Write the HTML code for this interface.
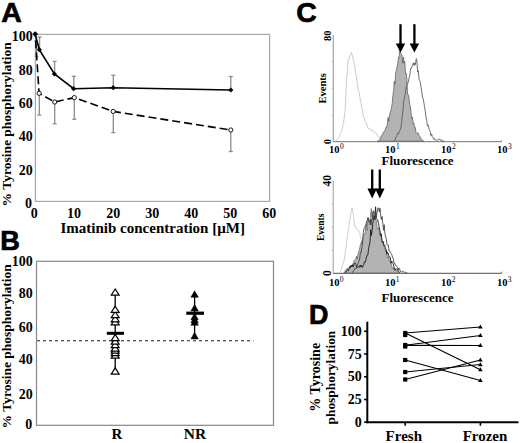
<!DOCTYPE html>
<html><head><meta charset="utf-8"><style>
html,body{margin:0;padding:0;background:#fff;width:520px;height:443px;overflow:hidden}
svg{display:block}
</style></head><body>
<svg width="520" height="443" viewBox="0 0 520 443">
<rect width="520" height="443" fill="#fff"/>
<text x="1.3" y="21.5" font-family="Liberation Sans, sans-serif" font-weight="bold" font-size="28.4" stroke="#000" stroke-width="0.7">A</text>
<rect x="35.4" y="34.4" width="234.20000000000002" height="167.0" fill="none" stroke="#a8a8a8" stroke-width="1.2"/>
<text x="32.8" y="41.0" font-family="Liberation Serif, serif" font-weight="bold" font-size="14" text-anchor="end">100</text>
<text x="32.8" y="74.5" font-family="Liberation Serif, serif" font-weight="bold" font-size="14" text-anchor="end">80</text>
<text x="32.8" y="108.0" font-family="Liberation Serif, serif" font-weight="bold" font-size="14" text-anchor="end">60</text>
<text x="32.8" y="141.4" font-family="Liberation Serif, serif" font-weight="bold" font-size="14" text-anchor="end">40</text>
<text x="32.8" y="174.9" font-family="Liberation Serif, serif" font-weight="bold" font-size="14" text-anchor="end">20</text>
<text x="32.1" y="208.4" font-family="Liberation Serif, serif" font-weight="bold" font-size="14" text-anchor="end">0</text>
<text x="34.3" y="217.5" font-family="Liberation Serif, serif" font-weight="bold" font-size="14" text-anchor="middle">0</text>
<text x="74.1" y="217.5" font-family="Liberation Serif, serif" font-weight="bold" font-size="14" text-anchor="middle">10</text>
<text x="113.2" y="217.5" font-family="Liberation Serif, serif" font-weight="bold" font-size="14" text-anchor="middle">20</text>
<text x="152.2" y="217.5" font-family="Liberation Serif, serif" font-weight="bold" font-size="14" text-anchor="middle">30</text>
<text x="191.2" y="217.5" font-family="Liberation Serif, serif" font-weight="bold" font-size="14" text-anchor="middle">40</text>
<text x="230.3" y="217.5" font-family="Liberation Serif, serif" font-weight="bold" font-size="14" text-anchor="middle">50</text>
<text x="269.3" y="217.5" font-family="Liberation Serif, serif" font-weight="bold" font-size="14" text-anchor="middle">60</text>
<text x="60.5" y="232.7" font-family="Liberation Serif, serif" font-weight="bold" font-size="15">Imatinib concentration [µM]</text>
<text transform="translate(10.8,206.5) rotate(-90)" font-family="Liberation Serif, serif" font-weight="bold" font-size="13.5">% Tyrosine phosphorylation</text>
<line x1="36.5" y1="40" x2="36.5" y2="56.4" stroke="#8c8c8c" stroke-width="1.3"/>
<line x1="34.75" y1="56.4" x2="38.25" y2="56.4" stroke="#8c8c8c" stroke-width="1.3"/>
<line x1="39.6" y1="49.7" x2="39.6" y2="37" stroke="#8c8c8c" stroke-width="1.3"/>
<line x1="37.6" y1="37" x2="41.6" y2="37" stroke="#8c8c8c" stroke-width="1.3"/>
<line x1="54.6" y1="74" x2="54.6" y2="61.4" stroke="#8c8c8c" stroke-width="1.3"/>
<line x1="52.6" y1="61.4" x2="56.6" y2="61.4" stroke="#8c8c8c" stroke-width="1.3"/>
<line x1="73.8" y1="88.7" x2="73.8" y2="76.3" stroke="#8c8c8c" stroke-width="1.3"/>
<line x1="71.8" y1="76.3" x2="75.8" y2="76.3" stroke="#8c8c8c" stroke-width="1.3"/>
<line x1="113.3" y1="87.7" x2="113.3" y2="75.3" stroke="#8c8c8c" stroke-width="1.3"/>
<line x1="111.3" y1="75.3" x2="115.3" y2="75.3" stroke="#8c8c8c" stroke-width="1.3"/>
<line x1="230.8" y1="90" x2="230.8" y2="76.5" stroke="#8c8c8c" stroke-width="1.3"/>
<line x1="228.8" y1="76.5" x2="232.8" y2="76.5" stroke="#8c8c8c" stroke-width="1.3"/>
<line x1="39.3" y1="93.3" x2="39.3" y2="115" stroke="#8c8c8c" stroke-width="1.3"/>
<line x1="37.3" y1="115" x2="41.3" y2="115" stroke="#8c8c8c" stroke-width="1.3"/>
<line x1="54.7" y1="102" x2="54.7" y2="123.7" stroke="#8c8c8c" stroke-width="1.3"/>
<line x1="52.7" y1="123.7" x2="56.7" y2="123.7" stroke="#8c8c8c" stroke-width="1.3"/>
<line x1="74.3" y1="97.6" x2="74.3" y2="119.3" stroke="#8c8c8c" stroke-width="1.3"/>
<line x1="72.3" y1="119.3" x2="76.3" y2="119.3" stroke="#8c8c8c" stroke-width="1.3"/>
<line x1="113.3" y1="111.4" x2="113.3" y2="132.6" stroke="#8c8c8c" stroke-width="1.3"/>
<line x1="111.3" y1="132.6" x2="115.3" y2="132.6" stroke="#8c8c8c" stroke-width="1.3"/>
<line x1="230.8" y1="130" x2="230.8" y2="151.5" stroke="#8c8c8c" stroke-width="1.3"/>
<line x1="228.8" y1="151.5" x2="232.8" y2="151.5" stroke="#8c8c8c" stroke-width="1.3"/>
<polyline points="35.2,34.1 39.1,93.3 54.7,102 74.3,97.6 113.2,111.4 230.8,130" fill="none" stroke="#000" stroke-width="1.6" stroke-dasharray="8 4" stroke-dashoffset="5.7"/>
<polyline points="35.2,34.1 39.3,49.7 54.4,74 73.6,88.7 113.2,87.7 230.8,90" fill="none" stroke="#000" stroke-width="1.6"/>
<circle cx="39.1" cy="93.3" r="2.1" fill="#fff" stroke="#000" stroke-width="0.9"/>
<circle cx="54.7" cy="102" r="2.1" fill="#fff" stroke="#000" stroke-width="0.9"/>
<circle cx="74.3" cy="97.6" r="2.1" fill="#fff" stroke="#000" stroke-width="0.9"/>
<circle cx="113.2" cy="111.4" r="2.1" fill="#fff" stroke="#000" stroke-width="0.9"/>
<circle cx="230.8" cy="130" r="2.1" fill="#fff" stroke="#000" stroke-width="0.9"/>
<polygon points="35.2,31.200000000000003 38.1,34.1 35.2,37.0 32.300000000000004,34.1" fill="#000"/>
<polygon points="39.3,47.1 41.9,49.7 39.3,52.300000000000004 36.699999999999996,49.7" fill="#000"/>
<polygon points="54.4,71.4 57.0,74 54.4,76.6 51.8,74" fill="#000"/>
<polygon points="73.6,86.10000000000001 76.19999999999999,88.7 73.6,91.3 71.0,88.7" fill="#000"/>
<polygon points="113.2,85.10000000000001 115.8,87.7 113.2,90.3 110.60000000000001,87.7" fill="#000"/>
<polygon points="230.8,87.4 233.4,90 230.8,92.6 228.20000000000002,90" fill="#000"/>
<text x="0.3" y="250.3" font-family="Liberation Sans, sans-serif" font-weight="bold" font-size="27.2" stroke="#000" stroke-width="0.7">B</text>
<rect x="36.5" y="261.3" width="237.0" height="164.0" fill="none" stroke="#888" stroke-width="1.2"/>
<text x="32.8" y="266.1" font-family="Liberation Serif, serif" font-weight="bold" font-size="14" text-anchor="end">100</text>
<text x="32.8" y="298.1" font-family="Liberation Serif, serif" font-weight="bold" font-size="14" text-anchor="end">80</text>
<text x="32.8" y="331.9" font-family="Liberation Serif, serif" font-weight="bold" font-size="14" text-anchor="end">60</text>
<text x="32.8" y="364.2" font-family="Liberation Serif, serif" font-weight="bold" font-size="14" text-anchor="end">40</text>
<text x="32.8" y="399.0" font-family="Liberation Serif, serif" font-weight="bold" font-size="14" text-anchor="end">20</text>
<text x="32.3" y="428.8" font-family="Liberation Serif, serif" font-weight="bold" font-size="14" text-anchor="end">0</text>
<text transform="translate(10.8,428.5) rotate(-90)" font-family="Liberation Serif, serif" font-weight="bold" font-size="13.5">% Tyrosine phosphorylation</text>
<line x1="37" y1="340.8" x2="253.5" y2="340.8" stroke="#222" stroke-width="1.1" stroke-dasharray="3 3"/>
<text x="116.8" y="438.9" font-family="Liberation Serif, serif" font-weight="bold" font-size="15" text-anchor="middle">R</text>
<text x="195" y="438.9" font-family="Liberation Serif, serif" font-weight="bold" font-size="15.5" text-anchor="middle">NR</text>
<line x1="115.2" y1="292" x2="115.2" y2="371" stroke="#000" stroke-width="1.3"/>
<polygon points="115.2,367.9 119.15,374.1 111.25,374.1" fill="#fff" stroke="#000" stroke-width="1.2"/>
<polygon points="115.2,351.9 119.15,358.1 111.25,358.1" fill="#fff" stroke="#000" stroke-width="1.2"/>
<polygon points="115.2,349.4 119.15,355.6 111.25,355.6" fill="#fff" stroke="#000" stroke-width="1.2"/>
<polygon points="115.2,346.9 119.15,353.1 111.25,353.1" fill="#fff" stroke="#000" stroke-width="1.2"/>
<polygon points="115.2,344.9 119.15,351.1 111.25,351.1" fill="#fff" stroke="#000" stroke-width="1.2"/>
<polygon points="115.2,341.4 119.15,347.6 111.25,347.6" fill="#fff" stroke="#000" stroke-width="1.2"/>
<polygon points="115.2,337.9 119.15,344.1 111.25,344.1" fill="#fff" stroke="#000" stroke-width="1.2"/>
<polygon points="115.2,334.4 119.15,340.6 111.25,340.6" fill="#fff" stroke="#000" stroke-width="1.2"/>
<polygon points="115.2,318.59999999999997 119.15,324.8 111.25,324.8" fill="#fff" stroke="#000" stroke-width="1.2"/>
<polygon points="115.2,315.59999999999997 119.15,321.8 111.25,321.8" fill="#fff" stroke="#000" stroke-width="1.2"/>
<polygon points="115.2,311.5 119.15,317.70000000000005 111.25,317.70000000000005" fill="#fff" stroke="#000" stroke-width="1.2"/>
<polygon points="115.2,306.2 119.15,312.40000000000003 111.25,312.40000000000003" fill="#fff" stroke="#000" stroke-width="1.2"/>
<polygon points="115.2,289.0 119.15,295.20000000000005 111.25,295.20000000000005" fill="#fff" stroke="#000" stroke-width="1.2"/>
<rect x="106.8" y="331.8" width="17.2" height="3" fill="#000"/>
<line x1="194.6" y1="294" x2="194.6" y2="335.5" stroke="#000" stroke-width="1.3"/>
<polygon points="194.6,332.45 198.35,338.95 190.85,338.95" fill="#000" stroke="#000" stroke-width="0.5"/>
<polygon points="194.6,318.75 198.35,325.25 190.85,325.25" fill="#000" stroke="#000" stroke-width="0.5"/>
<polygon points="194.6,316.25 198.35,322.75 190.85,322.75" fill="#000" stroke="#000" stroke-width="0.5"/>
<polygon points="194.6,313.25 198.35,319.75 190.85,319.75" fill="#000" stroke="#000" stroke-width="0.5"/>
<polygon points="194.6,304.45 198.35,310.95 190.85,310.95" fill="#000" stroke="#000" stroke-width="0.5"/>
<polygon points="194.6,290.75 198.35,297.25 190.85,297.25" fill="#000" stroke="#000" stroke-width="0.5"/>
<rect x="186.3" y="311.6" width="17.7" height="3.2" fill="#000"/>
<text x="296.3" y="22.4" font-family="Liberation Sans, sans-serif" font-weight="bold" font-size="28.4" stroke="#000" stroke-width="0.7">C</text>
<line x1="333.3" y1="35" x2="333.3" y2="141.6" stroke="#b0b0b0" stroke-width="1.4"/>
<line x1="333.3" y1="141.6" x2="501.5" y2="141.6" stroke="#8c8c8c" stroke-width="1.4"/>
<line x1="501.5" y1="141.6" x2="501.5" y2="139.79999999999998" stroke="#8c8c8c" stroke-width="0.8"/>
<line x1="331.7" y1="61.7" x2="333.3" y2="61.7" stroke="#b0b0b0" stroke-width="0.8"/>
<line x1="331.7" y1="88.4" x2="333.3" y2="88.4" stroke="#b0b0b0" stroke-width="0.8"/>
<line x1="331.7" y1="115" x2="333.3" y2="115" stroke="#b0b0b0" stroke-width="0.8"/>
<text transform="translate(331.4,35.75) rotate(-90)" font-family="Liberation Serif, serif" font-weight="bold" font-size="10.5" text-anchor="middle">80</text>
<text transform="translate(331.4,141.7) rotate(-90)" font-family="Liberation Serif, serif" font-weight="bold" font-size="10.5" text-anchor="middle">0</text>
<text transform="translate(326.2,88.3) rotate(-90)" font-family="Liberation Serif, serif" font-weight="bold" font-size="10.5" text-anchor="middle">Events</text>
<text x="334.3" y="153.2" font-family="Liberation Serif, serif" font-weight="bold" font-size="10.5" text-anchor="middle">10</text>
<text x="339.90000000000003" y="148.89999999999998" font-family="Liberation Serif, serif" font-size="7.5">0</text>
<text x="390.3" y="153.2" font-family="Liberation Serif, serif" font-weight="bold" font-size="10.5" text-anchor="middle">10</text>
<text x="395.90000000000003" y="148.89999999999998" font-family="Liberation Serif, serif" font-size="7.5">1</text>
<text x="446.3" y="153.2" font-family="Liberation Serif, serif" font-weight="bold" font-size="10.5" text-anchor="middle">10</text>
<text x="451.90000000000003" y="148.89999999999998" font-family="Liberation Serif, serif" font-size="7.5">2</text>
<text x="502.3" y="153.2" font-family="Liberation Serif, serif" font-weight="bold" font-size="10.5" text-anchor="middle">10</text>
<text x="507.90000000000003" y="148.89999999999998" font-family="Liberation Serif, serif" font-size="7.5">3</text>
<text x="417.5" y="165.2" font-family="Liberation Serif, serif" font-weight="bold" font-size="13" text-anchor="middle">Fluorescence</text>
<path d="M335.3,141.2 L335.3,141.2 L336.0,140.8 L336.7,140.1 L337.4,139.3 L338.1,138.6 L338.8,137.6 L339.5,135.8 L340.2,134.1 L340.9,133.5 L341.6,131.1 L342.3,128.6 L343.0,124.7 L343.7,121.8 L344.4,117.0 L345.1,110.8 L345.8,96.3 L346.5,80.8 L347.2,73.4 L347.9,61.3 L348.6,58.8 L349.3,59.0 L350.0,55.3 L350.7,55.4 L351.4,52.2 L352.1,54.5 L352.8,58.1 L353.5,59.8 L354.2,64.0 L354.9,66.8 L355.6,72.8 L356.3,75.8 L357.0,81.2 L357.7,85.6 L358.4,90.5 L359.1,92.7 L359.8,96.6 L360.5,100.8 L361.2,103.6 L361.9,108.8 L362.6,111.4 L363.3,116.4 L364.0,117.2 L364.7,119.9 L365.4,121.8 L366.1,123.0 L366.8,124.0 L367.5,127.7 L368.2,127.5 L368.9,128.8 L369.6,128.0 L370.3,129.1 L371.0,130.6 L371.7,131.3 L372.4,130.2 L373.1,130.6 L373.8,131.8 L374.5,132.6 L375.2,132.8 L375.9,133.4 L376.6,133.7 L377.3,135.4 L378.0,136.5 L378.7,136.9 L379.4,137.5 L380.1,138.6 L380.8,139.9 L381.5,140.4 L382.2,140.9 L382.9,141.1 L382.9,141.2" fill="none" stroke="#cdcdcd" stroke-width="1"/>
<path d="M377.5,141.2 L377.5,141.2 L378.2,140.8 L378.9,140.7 L379.6,139.5 L380.3,138.8 L381.0,136.2 L381.7,135.8 L382.4,134.3 L383.1,132.9 L383.8,131.9 L384.5,131.1 L385.2,129.9 L385.9,127.3 L386.6,127.3 L387.3,124.2 L388.0,117.5 L388.7,121.5 L389.4,116.1 L390.1,112.4 L390.8,110.9 L391.5,107.3 L392.2,103.5 L392.9,95.3 L393.6,90.5 L394.3,81.1 L395.0,84.3 L395.7,72.1 L396.4,70.4 L397.1,66.7 L397.8,63.0 L398.5,57.2 L399.2,57.6 L399.9,42.5 L400.6,52.5 L401.3,54.2 L402.0,55.2 L402.7,63.2 L403.4,57.0 L404.1,63.2 L404.8,61.4 L405.5,73.3 L406.2,73.1 L406.9,79.2 L407.6,94.5 L408.3,94.6 L409.0,98.0 L409.7,104.2 L410.4,106.7 L411.1,113.1 L411.8,118.5 L412.5,117.1 L413.2,123.7 L413.9,123.0 L414.6,127.3 L415.3,127.4 L416.0,132.5 L416.7,133.2 L417.4,133.0 L418.1,132.8 L418.8,134.9 L419.5,136.4 L420.2,136.8 L420.9,138.6 L421.6,139.9 L422.3,140.2 L423.0,140.4 L423.7,141.0 L423.7,141.2 Z" fill="#b3b3b3" stroke="#555" stroke-width="0.7"/>
<path d="M394.5,141.2 L394.5,141.0 L395.2,139.8 L395.9,137.2 L396.6,136.7 L397.3,134.3 L398.0,133.0 L398.7,133.7 L399.4,131.2 L400.1,129.9 L400.8,127.7 L401.5,123.7 L402.2,116.4 L402.9,111.0 L403.6,102.1 L404.3,98.5 L405.0,95.1 L405.7,90.2 L406.4,86.6 L407.1,83.5 L407.8,83.6 L408.5,81.0 L409.2,77.4 L409.9,74.9 L410.6,68.4 L411.3,68.6 L412.0,66.4 L412.7,65.1 L413.4,62.8 L414.1,65.6 L414.8,62.9 L415.5,64.6 L416.2,58.5 L416.9,60.6 L417.6,72.1 L418.3,70.7 L419.0,78.8 L419.7,80.7 L420.4,82.6 L421.1,87.6 L421.8,92.2 L422.5,97.3 L423.2,99.0 L423.9,102.7 L424.6,107.3 L425.3,111.3 L426.0,117.2 L426.7,120.2 L427.4,126.0 L428.1,124.9 L428.8,127.9 L429.5,130.2 L430.2,131.1 L430.9,135.6 L431.6,134.0 L432.3,136.8 L433.0,137.5 L433.7,139.3 L434.4,138.4 L435.1,140.1 L435.8,139.8 L436.5,140.3 L437.2,140.2 L437.9,140.2 L438.6,139.2 L439.3,139.2 L440.0,139.3 L440.7,140.3 L441.4,139.6 L442.1,141.1 L442.8,141.1 L443.5,141.1 L444.2,141.2 L444.2,141.2" fill="none" stroke="#555" stroke-width="0.85"/>
<line x1="400.5" y1="24.2" x2="400.5" y2="44.4" stroke="#000" stroke-width="2.3"/>
<polygon points="395.75,43.4 405.25,43.4 400.5,52.4" fill="#000"/>
<line x1="414.4" y1="24.2" x2="414.4" y2="44.4" stroke="#000" stroke-width="2.3"/>
<polygon points="409.65,43.4 419.15,43.4 414.4,52.4" fill="#000"/>
<line x1="333.2" y1="180.3" x2="333.2" y2="273.4" stroke="#a6a6a6" stroke-width="1.1"/>
<line x1="333.2" y1="273.4" x2="501.8" y2="273.4" stroke="#707070" stroke-width="1.4"/>
<line x1="501.8" y1="273.4" x2="501.8" y2="271.59999999999997" stroke="#707070" stroke-width="0.8"/>
<line x1="331.59999999999997" y1="250.3" x2="333.2" y2="250.3" stroke="#a6a6a6" stroke-width="0.8"/>
<line x1="331.59999999999997" y1="227.2" x2="333.2" y2="227.2" stroke="#a6a6a6" stroke-width="0.8"/>
<line x1="331.59999999999997" y1="204.1" x2="333.2" y2="204.1" stroke="#a6a6a6" stroke-width="0.8"/>
<text transform="translate(330.8,180.8) rotate(-90)" font-family="Liberation Serif, serif" font-weight="bold" font-size="11.5" text-anchor="middle">40</text>
<text transform="translate(330.8,273.2) rotate(-90)" font-family="Liberation Serif, serif" font-weight="bold" font-size="11.5" text-anchor="middle">0</text>
<text transform="translate(323.6,227.3) rotate(-90)" font-family="Liberation Serif, serif" font-weight="bold" font-size="9.5" text-anchor="middle">Events</text>
<text x="334.2" y="285.8" font-family="Liberation Serif, serif" font-weight="bold" font-size="10.5" text-anchor="middle">10</text>
<text x="339.8" y="281.5" font-family="Liberation Serif, serif" font-size="7.5">0</text>
<text x="390.2" y="285.8" font-family="Liberation Serif, serif" font-weight="bold" font-size="10.5" text-anchor="middle">10</text>
<text x="395.8" y="281.5" font-family="Liberation Serif, serif" font-size="7.5">1</text>
<text x="446.2" y="285.8" font-family="Liberation Serif, serif" font-weight="bold" font-size="10.5" text-anchor="middle">10</text>
<text x="451.8" y="281.5" font-family="Liberation Serif, serif" font-size="7.5">2</text>
<text x="502.2" y="285.8" font-family="Liberation Serif, serif" font-weight="bold" font-size="10.5" text-anchor="middle">10</text>
<text x="507.8" y="281.5" font-family="Liberation Serif, serif" font-size="7.5">3</text>
<text x="417.5" y="302.3" font-family="Liberation Serif, serif" font-weight="bold" font-size="13" text-anchor="middle">Fluorescence</text>
<path d="M340.1,272.8 L340.1,272.8 L340.8,270.7 L341.5,268.3 L342.2,266.2 L342.9,264.2 L343.6,261.7 L344.3,260.0 L345.0,254.0 L345.7,249.6 L346.4,243.8 L347.1,238.2 L347.8,233.1 L348.5,228.5 L349.2,223.8 L349.9,219.0 L350.6,215.7 L351.3,210.8 L352.0,207.8 L352.7,212.1 L353.4,214.0 L354.1,220.5 L354.8,227.1 L355.5,227.2 L356.2,227.2 L356.9,229.7 L357.6,230.0 L358.3,230.0 L359.0,230.9 L359.7,232.2 L360.4,236.2 L361.1,239.4 L361.8,242.1 L362.5,245.1 L363.2,245.3 L363.9,247.2 L364.6,249.4 L365.3,251.9 L366.0,252.6 L366.7,255.5 L367.4,255.9 L368.1,257.7 L368.8,259.6 L369.5,260.6 L370.2,262.2 L370.9,264.0 L371.6,265.4 L372.3,266.5 L373.0,267.6 L373.7,269.2 L374.4,270.2 L375.1,271.2 L375.8,272.5 L375.8,272.8" fill="none" stroke="#cfcfcf" stroke-width="1"/>
<path d="M344.0,272.8 L344.0,272.8 L344.7,271.4 L345.4,271.4 L346.1,269.1 L346.8,269.9 L347.5,267.8 L348.2,269.8 L348.9,268.5 L349.6,269.0 L350.3,266.8 L351.0,267.2 L351.7,265.9 L352.4,264.4 L353.1,263.9 L353.8,260.7 L354.5,260.4 L355.2,260.5 L355.9,258.2 L356.6,256.0 L357.3,259.0 L358.0,254.0 L358.7,251.4 L359.4,250.0 L360.1,245.9 L360.8,243.7 L361.5,241.4 L362.2,244.6 L362.9,237.7 L363.6,235.3 L364.3,233.7 L365.0,234.5 L365.7,226.1 L366.4,223.5 L367.1,230.8 L367.8,218.3 L368.5,220.0 L369.2,221.6 L369.9,225.1 L370.6,214.2 L371.3,208.5 L372.0,216.6 L372.7,211.8 L373.4,212.3 L374.1,216.6 L374.8,217.7 L375.5,219.8 L376.2,219.8 L376.9,226.8 L377.6,229.4 L378.3,227.5 L379.0,228.6 L379.7,234.1 L380.4,235.9 L381.1,234.7 L381.8,238.6 L382.5,244.1 L383.2,243.6 L383.9,245.2 L384.6,248.4 L385.3,249.9 L386.0,251.6 L386.7,249.9 L387.4,257.9 L388.1,256.9 L388.8,256.9 L389.5,261.2 L390.2,261.8 L390.9,263.0 L391.6,265.8 L392.3,268.3 L393.0,267.3 L393.7,269.1 L394.4,270.3 L395.1,268.6 L395.8,269.9 L396.5,271.3 L397.2,270.6 L397.9,271.9 L398.6,272.8 L398.6,272.8 Z" fill="#b3b3b3" stroke="#555" stroke-width="0.6"/>
<path d="M345.5,272.8 L345.5,272.8 L346.2,271.3 L346.9,270.8 L347.6,270.4 L348.3,270.7 L349.0,268.8 L349.7,266.4 L350.4,267.5 L351.1,265.1 L351.8,266.9 L352.5,264.8 L353.2,267.0 L353.9,264.5 L354.6,263.2 L355.3,263.2 L356.0,264.9 L356.7,266.3 L357.4,267.5 L358.1,266.9 L358.8,266.2 L359.5,267.3 L360.2,265.1 L360.9,267.0 L361.6,265.4 L362.3,267.5 L363.0,266.1 L363.7,264.5 L364.4,261.8 L365.1,262.4 L365.8,260.3 L366.5,256.9 L367.2,254.8 L367.9,254.8 L368.6,248.2 L369.3,245.3 L370.0,242.1 L370.7,229.6 L371.4,235.5 L372.1,230.6 L372.8,223.0 L373.5,219.3 L374.2,215.6 L374.9,219.7 L375.6,206.8 L376.3,218.4 L377.0,219.2 L377.7,220.0 L378.4,223.3 L379.1,226.5 L379.8,229.7 L380.5,235.5 L381.2,233.7 L381.9,240.6 L382.6,242.4 L383.3,241.5 L384.0,245.6 L384.7,244.9 L385.4,247.7 L386.1,250.0 L386.8,254.2 L387.5,252.0 L388.2,253.7 L388.9,255.9 L389.6,257.4 L390.3,257.4 L391.0,263.3 L391.7,261.0 L392.4,262.5 L393.1,263.7 L393.8,266.2 L394.5,269.4 L395.2,270.1 L395.9,268.9 L396.6,269.1 L397.3,269.6 L398.0,269.8 L398.7,271.7 L399.4,272.1 L399.4,272.8" fill="none" stroke="#1a1a1a" stroke-width="0.9"/>
<path d="M352.0,272.8 L352.0,272.8 L352.7,272.2 L353.4,271.0 L354.1,270.1 L354.8,268.7 L355.5,268.4 L356.2,268.6 L356.9,266.2 L357.6,265.3 L358.3,262.6 L359.0,261.1 L359.7,259.0 L360.4,252.5 L361.1,252.7 L361.8,247.7 L362.5,243.3 L363.2,233.5 L363.9,228.8 L364.6,227.8 L365.3,225.7 L366.0,224.7 L366.7,220.9 L367.4,220.5 L368.1,217.4 L368.8,221.3 L369.5,222.5 L370.2,219.5 L370.9,224.9 L371.6,219.5 L372.3,219.7 L373.0,212.0 L373.7,210.6 L374.4,212.8 L375.1,214.5 L375.8,217.7 L376.5,215.6 L377.2,211.6 L377.9,208.2 L378.6,207.8 L379.3,212.0 L380.0,208.2 L380.7,215.6 L381.4,219.5 L382.1,216.5 L382.8,223.9 L383.5,230.3 L384.2,224.6 L384.9,233.0 L385.6,237.2 L386.3,239.0 L387.0,244.4 L387.7,245.5 L388.4,244.9 L389.1,251.0 L389.8,251.1 L390.5,252.2 L391.2,253.6 L391.9,254.9 L392.6,257.9 L393.3,258.3 L394.0,262.9 L394.7,263.1 L395.4,265.2 L396.1,265.3 L396.8,266.4 L397.5,267.6 L398.2,269.9 L398.9,267.9 L399.6,269.2 L400.3,271.0 L401.0,272.2 L401.7,272.2 L402.4,271.4 L403.1,271.3 L403.8,272.4 L404.5,272.2 L405.2,272.2 L405.9,272.8 L406.6,272.8 L407.3,272.8 L407.3,272.8" fill="none" stroke="#333" stroke-width="0.8"/>
<line x1="372.2" y1="169.5" x2="372.2" y2="189.6" stroke="#000" stroke-width="2.3"/>
<polygon points="367.45,188.6 376.95,188.6 372.2,198.6" fill="#000"/>
<line x1="379.8" y1="169.5" x2="379.8" y2="189.6" stroke="#000" stroke-width="2.3"/>
<polygon points="375.05,188.6 384.55,188.6 379.8,198.6" fill="#000"/>
<text x="308.9" y="324.4" font-family="Liberation Sans, sans-serif" font-weight="bold" font-size="26.9" stroke="#000" stroke-width="0.7">D</text>
<line x1="367.3" y1="321.7" x2="367.3" y2="423.2" stroke="#000" stroke-width="2"/>
<line x1="366.3" y1="422.2" x2="518.5" y2="422.2" stroke="#000" stroke-width="2"/>
<line x1="364.1" y1="331.3" x2="367.3" y2="331.3" stroke="#000" stroke-width="1.6"/>
<text x="361.8" y="335.8" font-family="Liberation Serif, serif" font-weight="bold" font-size="14" text-anchor="end">100</text>
<line x1="364.1" y1="354.0" x2="367.3" y2="354.0" stroke="#000" stroke-width="1.6"/>
<text x="361.8" y="358.5" font-family="Liberation Serif, serif" font-weight="bold" font-size="14" text-anchor="end">75</text>
<line x1="364.1" y1="376.8" x2="367.3" y2="376.8" stroke="#000" stroke-width="1.6"/>
<text x="361.8" y="381.2" font-family="Liberation Serif, serif" font-weight="bold" font-size="14" text-anchor="end">50</text>
<line x1="364.1" y1="399.5" x2="367.3" y2="399.5" stroke="#000" stroke-width="1.6"/>
<text x="361.8" y="404.0" font-family="Liberation Serif, serif" font-weight="bold" font-size="14" text-anchor="end">25</text>
<line x1="364.1" y1="422.2" x2="367.3" y2="422.2" stroke="#000" stroke-width="1.6"/>
<text x="361.8" y="426.7" font-family="Liberation Serif, serif" font-weight="bold" font-size="14" text-anchor="end">0</text>
<line x1="405.2" y1="422.2" x2="405.2" y2="425.8" stroke="#000" stroke-width="1.6"/>
<line x1="480.4" y1="422.2" x2="480.4" y2="425.8" stroke="#000" stroke-width="1.6"/>
<text x="403.8" y="441.2" font-family="Liberation Serif, serif" font-weight="bold" font-size="15" text-anchor="middle">Fresh</text>
<text x="485" y="441.2" font-family="Liberation Serif, serif" font-weight="bold" font-size="15" text-anchor="middle">Frozen</text>
<text transform="translate(319.6,377.3) rotate(-90)" font-family="Liberation Serif, serif" font-weight="bold" font-size="14" text-anchor="middle">% Tyrosine</text>
<text transform="translate(335.1,377.6) rotate(-90)" font-family="Liberation Serif, serif" font-weight="bold" font-size="13.4" text-anchor="middle">phosphorylation</text>
<line x1="405.2" y1="333" x2="480.4" y2="327" stroke="#000" stroke-width="1.15"/>
<line x1="405.2" y1="333" x2="480.4" y2="369.7" stroke="#000" stroke-width="1.15"/>
<line x1="405.2" y1="345.3" x2="480.4" y2="335.5" stroke="#000" stroke-width="1.15"/>
<line x1="405.2" y1="345.3" x2="480.4" y2="345.5" stroke="#000" stroke-width="1.15"/>
<line x1="405.2" y1="360" x2="480.4" y2="380.5" stroke="#000" stroke-width="1.15"/>
<line x1="405.2" y1="372" x2="480.4" y2="364.5" stroke="#000" stroke-width="1.15"/>
<line x1="405.2" y1="379.5" x2="480.4" y2="360" stroke="#000" stroke-width="1.15"/>
<rect x="403.09999999999997" y="330.9" width="4.2" height="4.2" fill="#000"/>
<rect x="403.09999999999997" y="332.9" width="4.2" height="4.2" fill="#000"/>
<rect x="403.09999999999997" y="342.9" width="4.2" height="4.2" fill="#000"/>
<rect x="403.09999999999997" y="344.4" width="4.2" height="4.2" fill="#000"/>
<rect x="403.09999999999997" y="357.9" width="4.2" height="4.2" fill="#000"/>
<rect x="403.09999999999997" y="369.9" width="4.2" height="4.2" fill="#000"/>
<rect x="403.09999999999997" y="377.4" width="4.2" height="4.2" fill="#000"/>
<polygon points="480.4,324.6 482.7,328.6 478.09999999999997,328.6" fill="#000"/>
<polygon points="480.4,333.1 482.7,337.1 478.09999999999997,337.1" fill="#000"/>
<polygon points="480.4,343.1 482.7,347.1 478.09999999999997,347.1" fill="#000"/>
<polygon points="480.4,357.6 482.7,361.6 478.09999999999997,361.6" fill="#000"/>
<polygon points="480.4,362.3 482.7,366.3 478.09999999999997,366.3" fill="#000"/>
<polygon points="480.4,367.3 482.7,371.3 478.09999999999997,371.3" fill="#000"/>
<polygon points="480.4,378.1 482.7,382.1 478.09999999999997,382.1" fill="#000"/>
</svg>
</body></html>
